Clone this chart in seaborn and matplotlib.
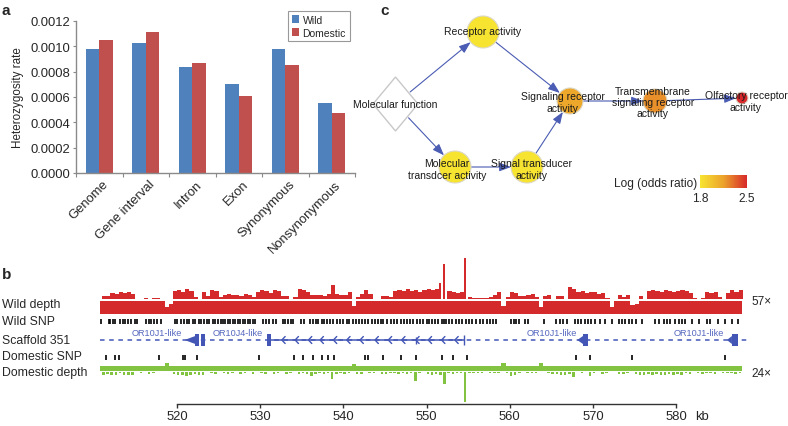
import matplotlib
matplotlib.use("Agg")  # headless
import matplotlib.pyplot as plt
import matplotlib.transforms as mtransforms
import numpy as np
import pandas as pd
import seaborn as sns
from matplotlib.cm import ScalarMappable
from matplotlib.colors import LinearSegmentedColormap, Normalize
from matplotlib.patches import Circle, FancyArrowPatch, Polygon

# ---------------- panel a: heterozygosity ----------------
regions = ["Genome", "Gene interval", "Intron", "Exon", "Synonymous", "Nonsynonymous"]
wild_het = [0.000976, 0.00103, 0.00084, 0.000705, 0.000976, 0.000555]
domestic_het = [0.00105, 0.00111, 0.000866, 0.000608, 0.000853, 0.000471]
het_ticks = [0.0, 0.0002, 0.0004, 0.0006, 0.0008, 0.0010, 0.0012]

# ---------------- panel b: scaffold 351 tracks ----------------
bin_start = 511.0  # kb, first 0.5 kb bin
bin_size = 0.5
# read depth above the mean band (+) and notches into it (-), arbitrary units
wild_depth = [
    3, 3, 6, 5, 7, 6, 7, 5, 0, 0,
    1, 0, 1, 1, 0, -6, -3, 8, 9, 7,
    10, 8, 2, 0, 7, 3, 9, 8, 2, 4,
    5, 4, 4, 3, 5, 4, 2, 7, 9, 8,
    6, 9, 8, 3, 3, 0, 2, 10, 9, 7,
    4, 4, 4, 3, 5, 14, 5, 4, 4, 7,
    -5, 2, 5, 9, 5, 0, 0, 3, 3, 2,
    8, 9, 8, 10, 8, 9, 7, 9, 10, 9,
    10, 16, 35, 8, 7, 6, 7, 41, 2, 1,
    1, 1, 1, 2, 4, 7, -5, 2, 7, 6,
    3, 3, 4, 5, 2, -6, 3, 4, 0, 3,
    3, 0, 12, 10, 7, 8, 6, 7, 7, 5,
    6, 1, -6, 0, 4, 2, 4, -4, -3, 3,
    0, 8, 9, 8, 7, 9, 8, 7, 8, 9,
    8, 6, 1, 0, 1, 7, 6, 7, 2, 0,
    6, 9, 7, 9,
]
domestic_depth = [
    3, 2, 3, 3, 1, 3, 3, 3, 0, 1,
    0, 2, 1, 0, 0, -3, 0, 2, 3, 3,
    4, 3, 2, 3, 3, 0, 1, 2, 0, 1,
    2, 1, 0, 2, 1, 0, 2, 0, 1, 2,
    0, 2, 1, 0, 2, 1, 0, 2, 1, 2,
    4, 2, 1, 2, 1, 7, 2, 1, 2, 1,
    -2, 2, 2, 0, 1, 1, 0, 2, 2, 1,
    1, 2, 1, 2, 1, 9, 1, 0, 2, 3,
    2, 3, 12, 1, 2, 1, 1, 30, 1, 1,
    1, 1, 0, 1, 1, 1, -3, 1, 4, 3,
    1, 0, 1, 1, 1, -3, 0, 1, 2, 2,
    3, 3, 2, 5, 0, 1, 0, 4, 1, 0,
    2, 1, 0, 0, 2, 2, 1, 0, 2, 3,
    3, 2, 3, 2, 3, 3, 2, 3, 2, 3,
    1, 2, 0, 1, 2, 1, 1, 2, 0, 1,
    1, 1, 2, 1,
]
wild_snp_kb = [
    510.2, 510.9, 511.8, 512.0, 512.3, 512.6, 513.2, 513.5, 513.8, 514.1, 514.5, 515.0, 515.2,
    516.3, 516.6, 516.9, 517.2, 517.6, 518.1, 519.7, 520.0, 520.5, 520.9, 521.2, 521.5, 521.9,
    522.2, 522.6, 522.9, 523.3, 523.6, 523.9, 524.3, 524.6, 524.9, 525.3, 525.5, 525.8, 526.1,
    526.4, 526.7, 527.0, 527.3, 527.6, 527.9, 528.2, 528.5, 528.8, 529.1, 529.4, 530.3, 530.7,
    531.1, 531.5, 531.9, 532.7, 533.0, 533.3, 533.7, 534.0, 534.9, 535.3, 536.0, 536.3, 536.7,
    537.0, 537.4, 537.7, 538.0, 538.4, 538.8, 539.2, 539.6, 540.0, 540.4, 540.7, 541.1, 541.5,
    541.9, 542.2, 542.6, 543.0, 543.4, 543.8, 544.2, 544.5, 544.8, 545.3, 545.7, 546.1, 546.5,
    546.9, 547.3, 547.7, 548.0, 548.4, 548.8, 549.2, 549.6, 550.0, 550.3, 550.6, 551.0, 551.4,
    551.8, 552.1, 552.3, 552.7, 553.1, 553.5, 553.9, 554.3, 554.7, 555.1, 555.5, 555.9, 556.4,
    556.8, 557.2, 557.6, 558.0, 558.3, 560.2, 560.5, 560.8, 561.1, 561.8, 562.2,
    564.1, 565.6, 566.0, 566.4, 566.9, 567.8, 568.2, 568.6, 569.0, 569.4, 569.8, 570.3, 570.8,
    571.4, 572.3, 573.1, 573.5, 573.9, 574.3, 574.7, 575.2, 575.9, 577.5, 577.9, 578.5, 578.9,
    579.3, 579.8, 580.3, 580.7, 581.1, 581.9, 582.7, 583.7, 584.1, 585.0, 585.9, 586.7, 587.4,
]
domestic_snp_kb = [
    510.6, 511.5, 512.5, 513.0, 517.8, 520.7, 521.0, 522.4, 529.9, 534.1, 535.2, 536.4,
    537.4, 538.1, 538.9, 542.6, 543.0, 544.8, 546.9, 548.7, 551.8, 553.2, 554.8, 568.0,
    569.6, 574.7, 585.9,
]
gene_names = ["OR10J1-like", "OR10J4-like", "OR10J1-like", "OR10J1-like"]
gene_label_kb = [517.6, 527.3, 565.0, 582.7]
exon_start_kb = [522.2, 522.9, 530.8, 568.8, 586.7]
exon_end_kb = [522.7, 523.4, 531.3, 569.4, 587.4]
arrow_tip_kb = [520.9, 568.1, 586.1]
arrow_base_kb = [522.2, 568.8, 586.7]
intron_kb = (531.3, 554.5)
chevron_kb = [532.6, 534.2, 535.8, 537.2, 538.8, 540.4, 542.0, 543.8, 545.4, 547.0,
              548.7, 550.2, 551.8, 553.4]
small_exon_kb = [548.7]
kb_ticks = [520, 530, 540, 550, 560, 570, 580]
track_names = ["Wild depth", "Wild SNP", "Scaffold 351", "Domestic SNP", "Domestic depth"]
mean_depths = ["57×", "24×"]

# ---------------- panel c: GO enrichment graph ----------------
go_terms = ["Molecular function", "Receptor activity", "Signaling receptor\nactivity",
            "Transmembrane\nsignaling receptor\nactivity", "Olfactory receptor\nactivity",
            "Molecular\ntransdcer activity", "Signal transducer\nactivity"]
go_log_odds = [np.nan, 1.8, 2.12, 2.2, 2.5, 1.8, 1.8]
go_edges = [(0, 1), (0, 5), (1, 2), (5, 6), (6, 2), (2, 3), (3, 4)]

# ---------------- layout (pixels of the 788x427 canvas) ----------------
W, H = 788, 427
node_xy = [(395.5, 105), (483, 33), (570, 102), (655, 102), (742, 99), (455, 168), (527, 168)]
node_r = [20, 16, 13, 12, 6, 16, 16]
label_xy = [(395, 105), (483, 32), (563, 103), (653, 103), (746, 102), (447, 170), (532, 170)]

BLUE, RED = "#4f81bd", "#c0504d"
TRACK_RED, TRACK_GREEN, GENE_BLUE = "#d42a2b", "#82c341", "#4356b6"
EDGE_BLUE = "#4a5cb3"


def fx(px):
    return px / W


def fy(py):
    return 1 - py / H


def px_to_kb(px):
    return 520 + (px - 177) / 8.32


sns.set_theme(style="white")
plt.rcParams["font.family"] = ["Liberation Sans", "DejaVu Sans"]

fig = plt.figure(figsize=(W / 100, H / 100), dpi=100)

# ================= a =================
ax_a = fig.add_axes([fx(76), fy(174), (355 - 76) / W, (174 - 22) / H])
df_het = pd.DataFrame({
    "region": regions * 2,
    "group": ["Wild"] * len(regions) + ["Domestic"] * len(regions),
    "rate": wild_het + domestic_het,
})
sns.barplot(data=df_het, x="region", y="rate", hue="group", palette=[BLUE, RED],
            width=0.58, gap=0, saturation=1, errorbar=None, linewidth=0, ax=ax_a)
ax_a.set_xlim(-0.5, len(regions) - 0.5)
ax_a.set_ylim(0, 0.0012)
ax_a.set_yticks(het_ticks)
ax_a.set_yticklabels([f"{t:.4f}" for t in het_ticks])
ax_a.set_xlabel("")
ax_a.set_ylabel("Heterozygosity rate", fontsize=8.4, labelpad=5)
for s in ["top", "right"]:
    ax_a.spines[s].set_visible(False)
for s in ["left", "bottom"]:
    ax_a.spines[s].set_color("#8a8a8a")
    ax_a.spines[s].set_linewidth(1.0)
ax_a.tick_params(axis="y", direction="out", length=2.5, width=0.8, color="#8a8a8a",
                 labelsize=9.4, pad=1.5, left=True)
ax_a.tick_params(axis="x", which="major", length=0, pad=6.5, labelsize=9.4)
ax_a.set_xticks(np.arange(-0.5, len(regions), 1), minor=True)
ax_a.tick_params(axis="x", which="minor", direction="out", length=3, width=0.8,
                 color="#8a8a8a", bottom=True)
shift = mtransforms.ScaledTranslation(0.075, 0, fig.dpi_scale_trans)
for lab in ax_a.get_xticklabels():
    lab.set_rotation(45)
    lab.set_ha("right")
    lab.set_va("center")
    lab.set_rotation_mode("anchor")
    lab.set_transform(lab.get_transform() + shift)
handles, labels = ax_a.get_legend_handles_labels()
ax_a.legend(handles, labels, loc="upper left", bbox_to_anchor=(fx(288), fy(12)),
            bbox_transform=fig.transFigure, frameon=True, fancybox=False,
            edgecolor="#808080", fontsize=7.5, handlelength=0.7, handleheight=0.7,
            borderpad=0.35, labelspacing=0.3, handletextpad=0.35, borderaxespad=0)
ax_a.get_legend().get_frame().set_linewidth(0.8)

# ================= b =================
ax_b = fig.add_axes([fx(100), 0, (748 - 100) / W, fy(255)])
ax_b.set_xlim(px_to_kb(100), px_to_kb(748))
ax_b.set_ylim(H, 255)
track_lo, track_hi = px_to_kb(100), px_to_kb(742)
bins = bin_start + bin_size * np.arange(len(wild_depth))

# wild depth: mean band with excess above and notches into it
wd = np.array(wild_depth, float)
ax_b.fill_between([track_lo, track_hi], 301.6, 314.5, color=TRACK_RED, lw=0)
up = wd > 0
ax_b.bar(bins[up], -wd[up], bottom=300.4, width=np.where(wd[up] > 15, 0.22, 0.5),
         align="edge", color=TRACK_RED, linewidth=0)
dn = wd < 0
ax_b.bar(bins[dn], -wd[dn], bottom=301.5, width=0.5, align="edge", color="white", linewidth=0)

# domestic depth, drawn hanging downwards
dd = np.array(domestic_depth, float)
ax_b.fill_between([track_lo, track_hi], 367.0, 372.3, color=TRACK_GREEN, lw=0)
down = dd > 0
ax_b.bar(bins[down], dd[down], bottom=373.3, width=np.where(dd[down] > 15, 0.22, 0.3),
         align="edge", color=TRACK_GREEN, linewidth=0)
bump = dd < 0
ax_b.bar(bins[bump], dd[bump], bottom=367.0, width=0.5, align="edge", color=TRACK_GREEN,
         linewidth=0)

# SNP rows
ax_b.vlines(wild_snp_kb, 320.2, 325.3, color="black", lw=1.2)
ax_b.vlines(domestic_snp_kb, 356.0, 361.0, color="black", lw=1.2)

# scaffold / gene models
ax_b.plot([track_lo, px_to_kb(748)], [341, 341], color=GENE_BLUE, lw=1.1,
          dashes=(3, 3), solid_capstyle="butt")
ax_b.plot(intron_kb, [341, 341], color=GENE_BLUE, lw=1.1)
ax_b.bar(exon_start_kb, 12, bottom=335, width=np.subtract(exon_end_kb, exon_start_kb),
         align="edge", color=GENE_BLUE, linewidth=0)
for tip, base in zip(arrow_tip_kb, arrow_base_kb):
    ax_b.add_patch(Polygon([(tip, 341), (base, 337), (base, 345)], closed=True,
                           fc=GENE_BLUE, ec="none"))
for c in chevron_kb:
    ax_b.plot([c + 0.4, c, c + 0.4], [337.5, 341, 344.5], color=GENE_BLUE, lw=1.0)
ax_b.vlines(small_exon_kb, 337.5, 344.5, color=GENE_BLUE, lw=1.0)
ax_b.vlines([intron_kb[1]], 336, 346, color=GENE_BLUE, lw=1.0)
for name, kb in zip(gene_names, gene_label_kb):
    ax_b.text(kb, 336, name, ha="center", va="baseline", fontsize=6.6, color="#5567bf")

# kb axis
for s in ["top", "right", "left"]:
    ax_b.spines[s].set_visible(False)
ax_b.spines["bottom"].set_position(("data", 405.5))
ax_b.spines["bottom"].set_bounds(kb_ticks[0], kb_ticks[-1])
ax_b.spines["bottom"].set_color("#333333")
ax_b.spines["bottom"].set_linewidth(1.0)
ax_b.set_xticks(kb_ticks)
ax_b.set_yticks([])
ax_b.tick_params(axis="x", direction="out", length=2.6, width=1.0, color="#333333",
                 labelsize=9.4, pad=1.2, bottom=True)
ax_b.patch.set_alpha(0)

for name, base_y in zip(track_names, [308.3, 325, 344, 360.5, 376]):
    fig.text(fx(2), fy(base_y), name, fontsize=8.8, va="baseline", ha="left")
fig.text(fx(751), fy(305), mean_depths[0], fontsize=8.5, va="baseline")
fig.text(fx(751), fy(377), mean_depths[1], fontsize=8.5, va="baseline")
fig.text(fx(695), fy(420), "kb", fontsize=9.4, va="baseline")

# ================= c =================
ax_c = fig.add_axes([fx(345), fy(260), (W - 345) / W, 260 / H])
ax_c.set_xlim(345, W)
ax_c.set_ylim(260, 0)
ax_c.axis("off")
cmap = LinearSegmentedColormap.from_list("odds", ["#f7e431", "#eca22b", "#d7282a"])
norm = Normalize(1.8, 2.5)

for a, b in go_edges:
    (xa, ya), (xb, yb) = node_xy[a], node_xy[b]
    d = np.hypot(xb - xa, yb - ya)
    ux, uy = (xb - xa) / d, (yb - ya) / d
    ra = 19 if a == 0 else node_r[a]
    start = (xa + ux * ra, ya + uy * ra)
    end = (xb - ux * node_r[b], yb - uy * node_r[b])
    ax_c.add_patch(FancyArrowPatch(start, end, arrowstyle="-|>,head_length=7,head_width=2.6",
                                   mutation_scale=1, color=EDGE_BLUE, lw=0.8,
                                   shrinkA=0, shrinkB=0, zorder=1))

for i, term in enumerate(go_terms):
    x, y = node_xy[i]
    if np.isnan(go_log_odds[i]):
        hw, hh = 22.5, 27
        ax_c.add_patch(Polygon([(x - hw, y), (x, y - hh), (x + hw, y), (x, y + hh)],
                               closed=True, fc="white", ec="#c8c8c8", lw=1.0, zorder=2))
    else:
        ax_c.add_patch(Circle((x, y), node_r[i], fc=cmap(norm(go_log_odds[i])),
                              ec="#dcd8c6", lw=0.8, zorder=2))
    lx, ly = label_xy[i]
    ax_c.text(lx, ly, term, ha="center", va="center", fontsize=7.5, linespacing=1.15,
              color="#1a1a1a", zorder=3)

cax = fig.add_axes([fx(700), fy(189), 47 / W, 13 / H])
cb = fig.colorbar(ScalarMappable(norm=norm, cmap=cmap), cax=cax, orientation="horizontal",
                  ticks=[1.8, 2.5])
cb.outline.set_visible(False)
cax.tick_params(length=0, labelsize=8.6, pad=3)
cax.set_xticklabels(["1.8", "2.5"])
fig.text(fx(697), fy(187.5), "Log (odds ratio)", fontsize=8.6, ha="right", va="baseline")

# panel letters
fig.text(fx(2), fy(15), "a", fontsize=11, fontweight="bold", va="baseline")
fig.text(fx(2), fy(279), "b", fontsize=11, fontweight="bold", va="baseline")
fig.text(fx(380), fy(15), "c", fontsize=11, fontweight="bold", va="baseline")

fig.savefig("out.png", dpi=100)
